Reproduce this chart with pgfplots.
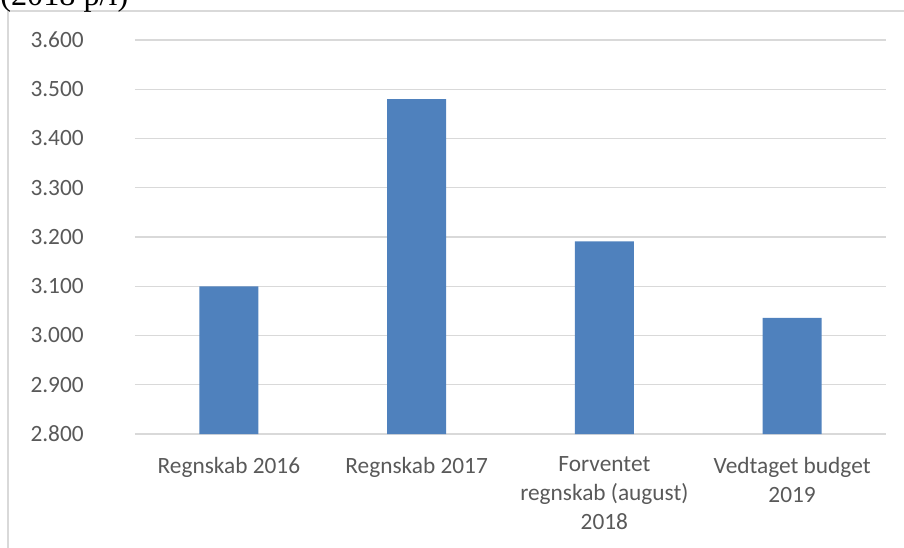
\documentclass[border=0pt]{standalone}
\usepackage{pgfplots}
\pgfplotsset{compat=1.18}
\usepackage{fontspec}
\setmainfont{Carlito}
\newfontfamily\serifttl{Liberation Serif}
\definecolor{barblue}{HTML}{4F81BD}
\definecolor{gridgray}{HTML}{D9D9D9}
\definecolor{txtgray}{HTML}{595959}
\begin{document}
\begin{tikzpicture}
\useasboundingbox (0pt,0pt) rectangle (678pt,-410.25pt);
\draw[gridgray, line width=1pt] (6pt,-420pt) -- (6pt,-8.25pt) -- (690pt,-8.25pt);
\node[anchor=base west, inner sep=0pt, font=\serifttl\fontsize{24.2}{28}\selectfont] at (0pt,-4.1pt) {(2018 p/l)};
\begin{axis}[
  at={(101.25pt,-325.5pt)}, anchor=south west,
  scale only axis, width=563.25pt, height=295.5pt,
  ybar, bar width=44.25pt,
  xmin=-0.5, xmax=3.5, ymin=2800, ymax=3600,
  ytick={2800,2900,3000,3100,3200,3300,3400,3500,3600},
  xtick=data,
  xticklabels={Regnskab 2016, Regnskab 2017, {Forventet\\regnskab (august)\\2018}, {Vedtaget budget\\2019}},
  ymajorgrids, major grid style={gridgray, line width=0.9pt},
  axis line style={draw=none}, major tick length=0pt,
  /pgf/number format/.cd, 1000 sep={.}, assume math mode=true, /pgfplots/.cd,
  yticklabel style={anchor=east, inner sep=0pt, xshift=-38.25pt, font=\fontsize{17.5}{21}\selectfont, text=txtgray},
  xticklabel style={anchor=north, inner sep=0pt, yshift=-17pt, align=center, font=\fontsize{17.5}{21.75}\selectfont, text=txtgray},
]
\addplot[fill=barblue, draw=none] coordinates {(0,3100) (1,3480) (2,3191) (3,3036)};
\end{axis}
\end{tikzpicture}
\end{document}
